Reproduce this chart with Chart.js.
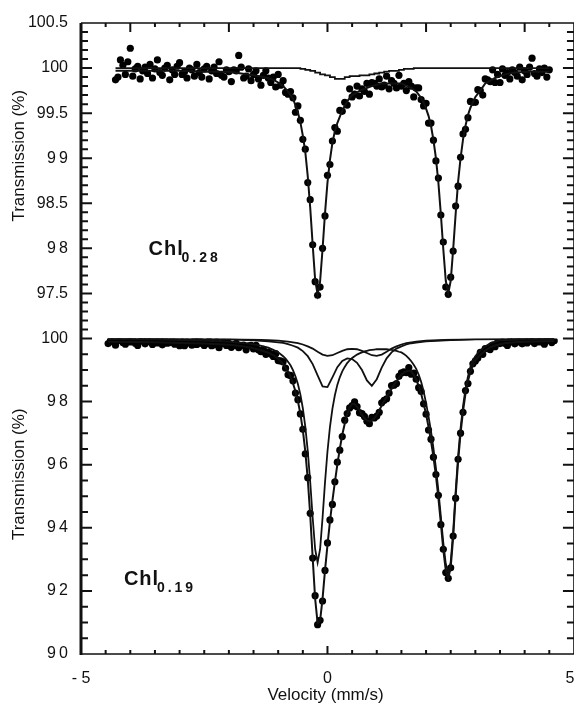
<!DOCTYPE html>
<html>
<head>
<meta charset="utf-8">
<script src="https://cdn.jsdelivr.net/npm/chart.js@4.4.1/dist/chart.umd.min.js"></script>
<style>
  html, body { margin: 0; padding: 0; background: #fff; overflow: hidden; }
  canvas { display: block; }
</style>
</head>
<body>
<canvas id="myChart" width="574" height="706"></canvas>
<script>
// velocity channels (mm/s) shared by both spectra
const vel = [
  -4.45,-4.4,-4.35,-4.3,-4.25,-4.2,-4.15,-4.1,-4.05,-4,
  -3.95,-3.9,-3.85,-3.8,-3.75,-3.7,-3.65,-3.6,-3.55,-3.5,
  -3.45,-3.4,-3.35,-3.3,-3.25,-3.2,-3.15,-3.1,-3.05,-3,
  -2.95,-2.9,-2.85,-2.8,-2.75,-2.7,-2.65,-2.6,-2.55,-2.5,
  -2.45,-2.4,-2.35,-2.3,-2.25,-2.2,-2.15,-2.1,-2.05,-2,
  -1.95,-1.9,-1.85,-1.8,-1.75,-1.7,-1.65,-1.6,-1.55,-1.5,
  -1.45,-1.4,-1.35,-1.3,-1.25,-1.2,-1.15,-1.1,-1.05,-1,
  -0.95,-0.9,-0.85,-0.8,-0.75,-0.7,-0.65,-0.6,-0.55,-0.5,
  -0.45,-0.4,-0.35,-0.3,-0.25,-0.2,-0.15,-0.1,-0.05,0,
  0.05,0.1,0.15,0.2,0.25,0.3,0.35,0.4,0.45,0.5,
  0.55,0.6,0.65,0.7,0.75,0.8,0.85,0.9,0.95,1,
  1.05,1.1,1.15,1.2,1.25,1.3,1.35,1.4,1.45,1.5,
  1.55,1.6,1.65,1.7,1.75,1.8,1.85,1.9,1.95,2,
  2.05,2.1,2.15,2.2,2.25,2.3,2.35,2.4,2.45,2.5,
  2.55,2.6,2.65,2.7,2.75,2.8,2.85,2.9,2.95,3,
  3.05,3.1,3.15,3.2,3.25,3.3,3.35,3.4,3.45,3.5,
  3.55,3.6,3.65,3.7,3.75,3.8,3.85,3.9,3.95,4,
  4.05,4.1,4.15,4.2,4.25,4.3,4.35,4.4,4.45,4.5,
  4.55,4.6
]

// Chl 0.28 measured transmission (%)
const topData = [
  null,null,null,99.87,99.90,100.09,100.03,99.93,100.07,100.22,
  99.91,99.99,100.02,99.88,99.97,100.01,99.94,100.04,99.89,99.99,
  100.09,99.95,99.92,100.00,100.03,99.87,99.98,99.93,100.02,100.06,
  99.93,99.96,99.89,100.00,99.98,99.91,100.04,99.95,99.90,99.99,
  100.02,99.88,99.97,100.01,99.94,100.07,99.92,99.90,99.98,99.96,
  99.85,99.98,99.97,100.14,100.01,99.89,99.91,99.99,99.86,99.93,
  99.97,99.88,99.81,99.92,99.97,99.89,99.84,99.90,99.79,99.93,
  99.81,99.86,99.73,99.71,99.74,99.67,99.51,99.58,99.42,99.21,
  99.10,98.73,98.54,98.04,97.63,97.48,97.57,98.00,98.36,98.81,
  98.93,99.19,99.34,99.30,99.53,99.52,99.62,99.59,99.77,99.68,
  99.71,99.80,99.69,99.77,99.74,99.83,99.71,99.84,99.83,99.80,
  99.88,99.79,99.81,99.91,99.77,99.86,99.83,99.78,99.92,99.80,
  99.83,99.75,99.85,99.80,99.68,99.78,99.78,99.65,99.58,99.61,
  99.39,99.39,99.20,98.97,98.78,98.37,98.07,97.57,97.49,97.68,
  97.97,98.47,98.69,99.01,99.27,99.32,99.45,99.63,99.62,99.62,
  99.76,99.75,99.70,99.88,99.87,99.85,99.98,99.84,99.93,99.84,
  99.99,99.92,99.95,99.88,99.98,99.95,99.91,100.01,99.87,99.97,
  99.93,100.01,100.11,99.94,99.91,99.99,99.95,100.00,99.90,99.98,
  null,null
]

// Chl 0.19 measured transmission (%)
const botData = [
  99.84,99.96,99.90,99.79,99.93,100.00,99.87,99.82,99.95,99.89,
  99.97,99.85,99.78,99.91,99.94,99.83,99.99,99.90,99.81,99.93,
  99.86,99.93,99.80,99.99,99.85,99.87,99.94,99.82,99.89,99.77,
  99.90,99.77,99.89,99.86,99.79,99.93,99.81,99.96,99.84,99.78,
  99.84,99.92,99.77,99.80,99.89,99.71,99.83,99.88,99.78,99.85,
  99.72,99.78,99.85,99.71,99.78,99.79,99.64,99.77,99.78,99.67,
  99.78,99.64,99.58,99.66,99.50,99.57,99.51,99.43,99.52,99.30,
  99.29,99.26,99.06,98.85,98.83,98.66,98.27,98.06,97.61,97.12,
  96.34,95.59,94.46,93.04,91.85,90.93,91.07,91.68,92.65,93.52,
  94.25,94.74,95.46,96.08,96.46,96.89,97.41,97.62,97.80,97.87,
  97.99,97.84,97.65,97.62,97.53,97.38,97.30,97.50,97.48,97.54,
  97.66,97.96,98.04,98.09,98.27,98.51,98.52,98.57,98.80,98.91,
  98.94,98.92,99.08,98.87,98.90,98.71,98.44,98.32,97.93,97.60,
  97.10,96.81,96.24,95.69,95.03,94.10,93.32,92.58,92.40,92.73,
  93.74,94.94,96.17,97.00,97.66,98.35,98.57,98.96,99.20,99.29,
  99.38,99.56,99.50,99.68,99.68,99.65,99.79,99.74,99.87,99.84,
  99.89,99.84,99.78,99.92,99.89,99.83,99.98,99.89,99.83,99.94,
  99.86,99.97,99.91,99.84,100.02,99.89,99.96,99.82,99.94,99.98,
  99.87,99.93
]

// Chl 0.28 fit
const topFitVel = [
  -4.3,-3.5,-3,-2.5,-2,-1.75,-1.5,-1.3,-1.1,-1,
  -0.9,-0.8,-0.7,-0.65,-0.6,-0.55,-0.5,-0.45,-0.4,-0.35,
  -0.3,-0.25,-0.2,-0.15,-0.1,-0.05,0,0.05,0.1,0.15,
  0.2,0.3,0.4,0.5,0.7,0.9,1.1,1.3,1.5,1.7,
  1.8,1.9,1.95,2,2.05,2.1,2.15,2.2,2.25,2.3,
  2.35,2.4,2.45,2.5,2.55,2.6,2.65,2.7,2.75,2.8,
  2.85,2.9,3,3.1,3.2,3.4,3.6,3.8,4.1,4.5
]
const topFit = [
  99.97,99.97,99.97,99.96,99.96,99.94,99.92,99.90,99.87,99.84,
  99.80,99.74,99.66,99.59,99.51,99.40,99.25,99.07,98.80,98.45,
  98.04,97.65,97.49,97.63,97.99,98.39,98.73,98.98,99.17,99.30,
  99.39,99.53,99.63,99.70,99.76,99.80,99.83,99.83,99.83,99.78,
  99.74,99.67,99.62,99.55,99.47,99.36,99.20,99.00,98.73,98.38,
  97.99,97.64,97.50,97.64,97.99,98.38,98.74,99.00,99.21,99.36,
  99.48,99.56,99.68,99.75,99.83,99.89,99.93,99.95,99.96,99.96
]
// Chl 0.28 minor component
const topMinorVel = [-4.3,-0.6,-0.5,-0.4,-0.3,-0.2,-0.1,0,0.1,0.2,0.3,0.4,0.5,0.6,0.7,0.8,0.9,1,1.1,1.2,1.3,1.4,1.5,1.6,1.7,1.8,4.5]
const topMinor = [100,100,99.99,99.98,99.97,99.95,99.93,99.92,99.90,99.88,99.88,99.90,99.91,99.91,99.92,99.92,99.93,99.94,99.95,99.96,99.97,99.97,99.98,99.99,99.99,100,100]

// Chl 0.19 fit and main doublet
const botFitVel = [
  -4.45,-3.5,-3,-2.5,-2,-1.8,-1.6,-1.4,-1.2,-1.1,
  -1,-0.95,-0.9,-0.85,-0.8,-0.75,-0.7,-0.65,-0.6,-0.55,
  -0.5,-0.45,-0.4,-0.35,-0.3,-0.25,-0.2,-0.15,-0.1,-0.05,
  0,0.05,0.1,0.15,0.2,0.25,0.3,0.35,0.4,0.45,
  0.5,0.55,0.6,0.65,0.7,0.75,0.8,0.85,0.9,0.95,
  1,1.05,1.1,1.15,1.2,1.25,1.3,1.35,1.4,1.45,
  1.5,1.55,1.6,1.65,1.7,1.75,1.8,1.85,1.9,1.95,
  2,2.05,2.1,2.15,2.2,2.25,2.3,2.35,2.4,2.45,
  2.5,2.55,2.6,2.65,2.7,2.75,2.8,2.85,2.9,2.95,
  3,3.05,3.1,3.2,3.3,3.4,3.5,3.6,3.8,4,
  4.6
]
const botFit = [
  99.90,99.88,99.86,99.84,99.80,99.77,99.72,99.65,99.55,99.47,
  99.36,99.28,99.19,99.08,98.95,98.78,98.58,98.33,98.02,97.62,
  97.10,96.42,95.55,94.40,93.05,91.75,90.98,91.05,91.75,92.65,
  93.45,94.20,94.85,95.45,96.00,96.50,96.95,97.30,97.60,97.82,
  97.92,97.92,97.84,97.72,97.58,97.47,97.40,97.38,97.40,97.47,
  97.58,97.72,97.88,98.02,98.14,98.27,98.40,98.53,98.64,98.76,
  98.85,98.92,98.96,98.98,98.95,98.85,98.70,98.50,98.25,97.95,
  97.60,97.20,96.75,96.25,95.65,94.95,94.15,93.30,92.65,92.40,
  92.75,93.70,95.00,96.10,97.00,97.70,98.25,98.65,98.95,99.15,
  99.30,99.40,99.48,99.62,99.72,99.78,99.82,99.85,99.88,99.90,
  99.92
]
const botCompA = [
  99.98,99.97,99.95,99.93,99.90,99.87,99.84,99.79,99.71,99.64,
  99.56,99.50,99.44,99.36,99.26,99.15,99.00,98.80,98.56,98.23,
  97.79,97.21,96.44,95.45,94.32,93.32,92.90,93.32,94.31,95.44,
  96.42,97.19,97.77,98.20,98.53,98.77,98.96,99.10,99.22,99.31,
  99.38,99.44,99.49,99.53,99.56,99.59,99.61,99.63,99.64,99.65,
  99.66,99.66,99.66,99.66,99.66,99.65,99.64,99.62,99.61,99.58,
  99.56,99.51,99.45,99.37,99.28,99.17,99.04,98.86,98.63,98.33,
  97.95,97.53,97.06,96.52,95.90,95.18,94.36,93.52,92.86,92.58,
  92.92,93.88,95.16,96.27,97.16,97.86,98.40,98.80,99.10,99.30,
  99.44,99.54,99.62,99.75,99.85,99.90,99.94,99.95,99.96,99.97,
  99.98
]
// Chl 0.19 two weak doublets
const botSubVel = [-4.45,-2,-1.5,-1.2,-1,-0.9,-0.8,-0.7,-0.6,-0.5,-0.4,-0.3,-0.2,-0.1,0,0.1,0.2,0.3,0.4,0.5,0.6,0.7,0.8,0.9,1,1.1,1.2,1.3,1.4,1.5,1.6,1.7,1.8,2,2.5,3,4.6]
const botCompB = [99.99,99.97,99.94,99.91,99.88,99.86,99.82,99.77,99.71,99.60,99.44,99.19,98.83,98.48,98.46,98.77,99.09,99.29,99.37,99.35,99.23,99.00,98.67,98.50,98.71,99.08,99.37,99.56,99.68,99.75,99.81,99.85,99.87,99.91,99.95,99.97,99.99]
const botCompC = [99.99,99.98,99.96,99.95,99.93,99.92,99.90,99.88,99.85,99.81,99.75,99.68,99.58,99.49,99.45,99.47,99.54,99.61,99.66,99.67,99.66,99.61,99.54,99.47,99.45,99.49,99.58,99.68,99.75,99.81,99.85,99.88,99.90,99.93,99.96,99.98,99.99]

const topTicks = [97.5, 98, 98.5, 99, 99.5, 100, 100.5]
const topTickLabels = ['97.5', '9\u20098', '98.5', '9\u20099', '99.5', '100', '100.5']
const botTicks = [90, 92, 94, 96, 98, 100]
const botTickLabels = ['9\u20090', '9\u20092', '9\u20094', '9\u20096', '9\u20098', '100']
const xTicks = [-5, 0, 5]
const xTickLabels = ['- 5', '0', '5\u2002']

const family = "'Liberation Sans', Arial, sans-serif"
const ink = '#111'

const pts = (xs, ys) => xs.map((x, i) => ({x: x, y: ys[i]})).filter((p) => p.y !== null)

const line = (xs, ys, axis, extra) => Object.assign({
  data: pts(xs, ys),
  yAxisID: axis,
  showLine: true,
  borderColor: ink,
  borderWidth: 2,
  pointRadius: 0
}, extra || {})

const dots = (ys, axis) => ({
  data: pts(vel, ys),
  yAxisID: axis,
  pointRadius: 3.6,
  pointBackgroundColor: '#000',
  pointBorderWidth: 0
})

const chl = (ctx, x, y, sub) => {
  ctx.textAlign = 'left'
  ctx.textBaseline = 'alphabetic'
  ctx.font = 'bold 20px ' + family
  ctx.letterSpacing = '1px'
  ctx.fillText('Chl', x, y)
  ctx.font = 'bold 14px ' + family
  ctx.letterSpacing = '3px'
  ctx.fillText(sub, x + 33, y + 7.5)
  ctx.letterSpacing = '0px'
}

// frame, inward ticks, panel titles and sample labels
// the plot runs to +5 mm/s, just past the right edge of the picture
const frame = {
  id: 'frame',
  afterDraw(chart) {
    const ctx = chart.ctx
    const a = chart.chartArea
    const sx = chart.scales.x, st = chart.scales.yTop, sb = chart.scales.yBot
    const right = sx.getPixelForValue(5)
    ctx.save()
    ctx.strokeStyle = ink
    ctx.lineWidth = 1.5
    ctx.beginPath()
    ctx.moveTo(a.left, a.top)
    ctx.lineTo(right, a.top)
    ctx.lineTo(right, a.bottom)
    ctx.lineTo(a.left, a.bottom)
    ctx.stroke()
    ctx.lineWidth = 3
    ctx.beginPath()
    ctx.moveTo(a.left, a.top)
    ctx.lineTo(a.left, a.bottom + 1)
    ctx.stroke()

    ctx.lineWidth = 2
    ctx.beginPath()
    const side = (y, len) => {
      ctx.moveTo(a.left, y); ctx.lineTo(a.left + len, y)
      ctx.moveTo(right, y); ctx.lineTo(right - len, y)
    }
    for (let i = 971; i <= 1004; i++) side(st.getPixelForValue(i / 10), i % 5 === 0 ? 11 : 7)
    for (let i = 181; i <= 200; i++) side(sb.getPixelForValue(i / 2), i % 4 === 0 ? 11 : 7)
    for (let i = -9; i <= 9; i++) {
      const x = sx.getPixelForValue(i / 2)
      ctx.moveTo(x, a.bottom); ctx.lineTo(x, a.bottom - (i === 0 ? 8 : 4))
      ctx.moveTo(x, a.top); ctx.lineTo(x, a.top + (i % 4 === 0 ? 9 : 4))
    }
    ctx.stroke()

    ctx.fillStyle = ink
    ctx.font = '17px ' + family
    ctx.textAlign = 'center'
    ctx.textBaseline = 'middle'
    ;[[st, 25], [sb, 22]].forEach(([s, up]) => {
      ctx.save()
      ctx.translate(a.left - 61.5, (s.top + s.bottom) / 2 - up)
      ctx.rotate(-Math.PI / 2)
      ctx.fillText('Transmission (%)', 0, 0)
      ctx.restore()
    })

    chl(ctx, sx.getPixelForValue(-3.63), st.getPixelForValue(97.93), '0.28')
    chl(ctx, sx.getPixelForValue(-4.13), sb.getPixelForValue(92.2), '0.19')
    ctx.restore()
  }
}

const yBase = {
  type: 'linear',
  position: 'left',
  stack: 'panels',
  stackWeight: 1,
  grid: { display: false, drawTicks: false },
  border: { display: false },
  afterFit: (s) => { s.width = 81 }
}

new Chart(document.getElementById('myChart'), {
  type: 'scatter',
  data: {
    datasets: [
      line(topFitVel, topFit, 'yTop'),
      line(topMinorVel, topMinor, 'yTop', { stepped: 'middle', borderWidth: 1.8 }),
      line(botFitVel, botFit, 'yBot'),
      line(botFitVel, botCompA, 'yBot', { borderWidth: 1.8 }),
      line(botSubVel, botCompB, 'yBot', { borderWidth: 1.8 }),
      line(botSubVel, botCompC, 'yBot', { borderWidth: 1.8 }),
      dots(topData, 'yTop'),
      dots(botData, 'yBot')
    ]
  },
  options: {
    responsive: false,
    animation: false,
    devicePixelRatio: 1,
    events: [],
    layout: { padding: { top: 23, right: 0, left: 0, bottom: 0 } },
    plugins: { legend: { display: false }, tooltip: { enabled: false } },
    scales: {
      x: {
        type: 'linear',
        position: 'bottom',
        min: -5,
        max: 4.92,
        grid: { display: false, drawTicks: false },
        border: { display: false },
        afterBuildTicks: (s) => { s.ticks = xTicks.map((v) => ({ value: v })) },
        // keep the edge labels from shrinking the plot
        afterFit: (s) => { s.height = 52; s.paddingLeft = 0; s.paddingRight = 0 },
        ticks: {
          autoSkip: false,
          maxRotation: 0,
          padding: 15,
          color: ink,
          font: { family: family, size: 16 },
          callback: (v, i) => xTickLabels[i]
        },
        title: {
          display: true,
          text: 'Velocity (mm/s)',
          color: ink,
          font: { family: family, size: 17 },
          padding: { top: 0, bottom: 0 }
        }
      },
      yBot: Object.assign({}, yBase, {
        weight: 1,
        min: 90,
        max: 100,
        afterBuildTicks: (s) => { s.ticks = botTicks.map((v) => ({ value: v })) },
        ticks: {
          autoSkip: false,
          padding: 13,
          color: ink,
          font: { family: family, size: 16 },
          callback: (v, i) => botTickLabels[i]
        }
      }),
      yTop: Object.assign({}, yBase, {
        weight: 2,
        min: 97,
        max: 100.5,
        afterBuildTicks: (s) => { s.ticks = topTicks.map((v) => ({ value: v })) },
        ticks: {
          autoSkip: false,
          padding: 13,
          color: ink,
          font: { family: family, size: 16 },
          callback: (v, i) => topTickLabels[i]
        }
      })
    }
  },
  plugins: [frame]
})
</script>
</body>
</html>
